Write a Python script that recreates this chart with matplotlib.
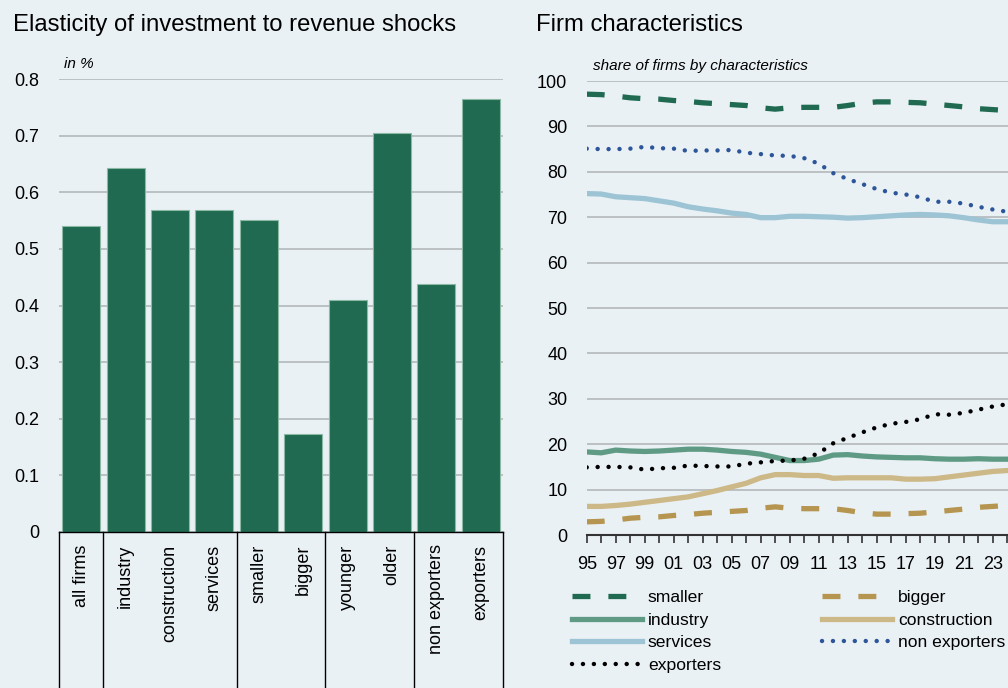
import numpy as np
import matplotlib.pyplot as plt

BG = '#e9f1f5'
FONT = ['Liberation Sans', 'DejaVu Sans']

# left panel data
categories = ['all firms', 'industry', 'construction', 'services', 'smaller',
              'bigger', 'younger', 'older', 'non exporters', 'exporters']
elasticity = [0.54, 0.643, 0.569, 0.569, 0.551, 0.173, 0.41, 0.705, 0.438, 0.765]
group_edges = [-0.5, 0.5, 3.5, 5.5, 7.5, 9.5]

# right panel data
years = list(range(1995, 2025))
smaller = [97.1, 97.0, 96.7, 96.3, 96.1, 96.0, 95.7, 95.5, 95.2, 95.0,
           94.8, 94.6, 94.1, 93.8, 94.1, 94.2, 94.2, 94.2, 94.6, 95.1,
           95.4, 95.4, 95.3, 95.2, 94.9, 94.6, 94.3, 93.9, 93.7, 93.5]
bigger = [2.9, 3.0, 3.3, 3.7, 3.9, 4.0, 4.3, 4.5, 4.8, 5.0,
          5.2, 5.4, 5.9, 6.2, 5.9, 5.8, 5.8, 5.8, 5.4, 4.9,
          4.6, 4.6, 4.7, 4.8, 5.1, 5.4, 5.7, 6.1, 6.3, 6.5]
industry = [18.3, 18.1, 18.7, 18.5, 18.4, 18.5, 18.7, 18.9, 18.9, 18.7,
            18.4, 18.2, 17.8, 17.1, 16.4, 16.4, 16.7, 17.6, 17.7, 17.4,
            17.2, 17.1, 17.0, 17.0, 16.8, 16.7, 16.7, 16.8, 16.7, 16.7]
construction = [6.3, 6.3, 6.5, 6.8, 7.2, 7.6, 8.0, 8.4, 9.1, 9.8,
                10.6, 11.4, 12.6, 13.3, 13.3, 13.1, 13.1, 12.5, 12.6, 12.6,
                12.6, 12.6, 12.3, 12.3, 12.4, 12.8, 13.2, 13.6, 14.0, 14.2]
services = [75.2, 75.1, 74.5, 74.3, 74.1, 73.6, 73.1, 72.3, 71.8, 71.4,
            70.9, 70.6, 69.9, 69.9, 70.2, 70.2, 70.1, 70.0, 69.8, 69.9,
            70.1, 70.3, 70.5, 70.6, 70.5, 70.3, 69.9, 69.4, 69.0, 69.0]
non_exporters = [85.1, 85.0, 85.0, 85.1, 85.5, 85.2, 85.1, 84.6, 84.7, 84.7,
                 84.8, 84.2, 83.9, 83.6, 83.5, 83.0, 81.8, 79.7, 78.4, 77.3,
                 76.2, 75.4, 75.0, 74.4, 73.4, 73.4, 73.0, 72.3, 71.7, 71.2]
exporters = [14.9, 15.0, 15.0, 14.9, 14.4, 14.7, 14.8, 15.3, 15.2, 15.1,
             15.1, 15.7, 16.0, 16.3, 16.4, 16.8, 18.0, 20.2, 21.4, 22.6,
             23.7, 24.5, 24.9, 25.5, 26.6, 26.5, 26.9, 27.6, 28.3, 28.8]
xtick_years = years[::2]
xtick_labels = ['95', '97', '99', '01', '03', '05', '07', '09', '11', '13',
                '15', '17', '19', '21', '23']

plt.rcParams['font.family'] = FONT

fig = plt.figure(figsize=(10.08, 6.88), dpi=100, facecolor=BG)

# ---- left: bar chart
ax1 = fig.add_axes([59/1008, 156/688, 444/1008, 453/688], facecolor=BG)
x = np.arange(len(categories))
ax1.bar(x, elasticity, width=0.86, color='#1f6a50', edgecolor='#8cb9a6', linewidth=0.8, zorder=3)
ax1.set_xlim(-0.5, 9.5)
ax1.set_ylim(0, 0.8)
ax1.set_yticks(np.arange(0, 0.81, 0.1))
ax1.set_yticklabels(['0', '0.1', '0.2', '0.3', '0.4', '0.5', '0.6', '0.7', '0.8'])
ax1.grid(axis='y', color='#b4b8bb', linewidth=1.2, zorder=0)
ax1.set_xticks(x)
ax1.set_xticklabels(categories, rotation=90, va='top', ha='center')
ax1.tick_params(axis='x', length=0, pad=9, labelsize=13)
ax1.tick_params(axis='y', length=0, pad=14, labelsize=13)
for s in ['top', 'right', 'left']:
    ax1.spines[s].set_visible(False)
ax1.spines['bottom'].set_color('black')
ax1.spines['bottom'].set_linewidth(1.0)
ax1.spines['bottom'].set_zorder(4)
for e in group_edges:
    ax1.plot([e, e], [0, -0.5], transform=ax1.get_xaxis_transform(),
             color='black', linewidth=1.0, clip_on=False)
ax1.text(0.012, 1.018, 'in %', transform=ax1.transAxes, fontsize=11,
         style='italic', va='bottom', ha='left')

# ---- right: line chart
ax2 = fig.add_axes([586.7/1008, 153/688, 435/1008, 454/688], facecolor=BG)
ax2.plot(years, smaller, color='#1f6a50', lw=3.8, ls=(0, (3.4, 3.4)), dash_capstyle='butt', label='smaller', zorder=3)
ax2.plot(years, bigger, color='#b5954f', lw=3.8, ls=(0, (3.4, 3.4)), dash_capstyle='butt', label='bigger', zorder=3)
ax2.plot(years, industry, color='#5f9b84', lw=3.8, label='industry', zorder=3)
ax2.plot(years, construction, color='#cdb887', lw=3.8, label='construction', zorder=3)
ax2.plot(years, services, color='#9cc4d4', lw=3.8, label='services', zorder=3)
ax2.plot(years, non_exporters, color='#2d5599', lw=3.2, ls=(0, (0.01, 2.45)), dash_capstyle='round', label='non exporters', zorder=4)
ax2.plot(years, exporters, color='black', lw=3.2, ls=(0, (0.01, 2.45)), dash_capstyle='round', label='exporters', zorder=4)
ax2.set_xlim(1995, 2025)
ax2.set_ylim(0, 100)
ax2.set_yticks(range(0, 101, 10))
ax2.grid(axis='y', color='#b4b8bb', linewidth=1.2, zorder=0)
ax2.set_xticks(xtick_years)
ax2.set_xticklabels(xtick_labels)
ax2.set_xticks(years, minor=True)
ax2.tick_params(axis='x', which='both', direction='out', length=6, width=1.2, color='#333333', pad=9, labelsize=13)
ax2.tick_params(axis='y', length=0, pad=14, labelsize=13)
for s in ['top', 'right', 'left']:
    ax2.spines[s].set_visible(False)
ax2.spines['bottom'].set_color('#333333')
ax2.spines['bottom'].set_linewidth(1.5)
ax2.text(0.015, 1.018, 'share of firms by characteristics', transform=ax2.transAxes,
         fontsize=11, style='italic', va='bottom', ha='left')

h = {l.get_label(): l for l in ax2.get_lines()}
order = ['smaller', 'industry', 'services', 'exporters', 'bigger', 'construction', 'non exporters']
ax2.legend([h[k] for k in order], order, ncol=2, loc='upper left',
           bbox_to_anchor=(572/1008, 1 - 590/688), bbox_transform=fig.transFigure,
           frameon=False, borderpad=0, borderaxespad=0, handlelength=4.0,
           handletextpad=0.33, columnspacing=5.8, labelspacing=0.42, fontsize=12.6)

fig.text(13/1008, 1 - 25/688, 'Elasticity of investment to revenue shocks',
         fontsize=17.2, va='center', ha='left')
fig.text(536/1008, 1 - 25/688, 'Firm characteristics',
         fontsize=17.2, va='center', ha='left')

fig.savefig('out.png', dpi=100, facecolor=BG)
